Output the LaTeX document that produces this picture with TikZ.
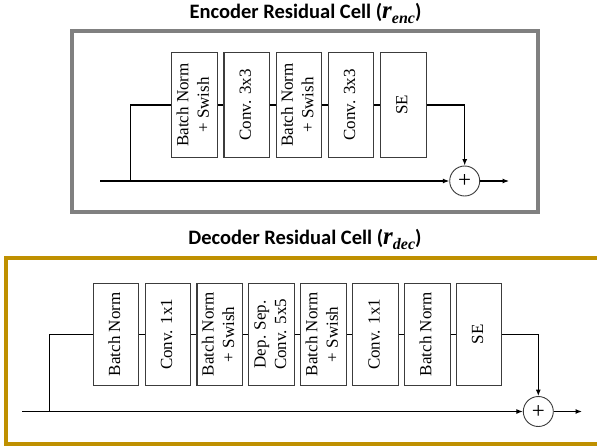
\documentclass[tikz,border=0pt]{standalone}
\usepackage{fontspec}
\setmainfont{Liberation Serif}
\newfontfamily\titlefont{Carlito}
\usetikzlibrary{arrows.meta}
\definecolor{framegray}{HTML}{808080}
\definecolor{framegold}{HTML}{BF9000}
\definecolor{boxline}{HTML}{3C3C3C}
\newcommand{\rtext}[1]{\rotatebox{90}{\fontsize{17}{20.5}\selectfont\begin{tabular}{@{}c@{}}#1\end{tabular}}}
\newcommand{\rsub}[2]{{\rmfamily\bfseries\itshape\fontsize{25}{25}\selectfont #1\raisebox{-5pt}{\fontsize{16}{16}\selectfont #2}}}
\begin{document}
\begin{tikzpicture}[x=1pt,y=1pt,
  blk/.style={draw=boxline,line width=1.1pt,fill=white,inner sep=0pt},
  eblk/.style={blk,minimum width=45.5pt,minimum height=105pt},
  dblk/.style={blk,minimum width=45.6pt,minimum height=102pt},
  sumnode/.style={draw=boxline,line width=0.9pt,circle,minimum size=30pt,inner sep=0pt,font=\fontsize{23}{23}\selectfont},
  conn/.style={line width=1.1pt,black},
  arr/.style={conn,-{Latex[length=6.5pt,width=5pt]}},
  ttl/.style={font=\titlefont\bfseries\fontsize{20.5}{23}\selectfont,inner sep=0pt,anchor=base}
]
\useasboundingbox (0,0) rectangle (597,-447);
\fill[white] (0,0) rectangle (597,-447);

% ---------- Encoder ----------
\node[ttl] (etitle) at (305.5,-19) {Encoder Residual Cell (\rsub{r}{enc})};
\draw[framegray,line width=4pt] (71.7,-30.7) rectangle (538,-212.3);

\node[eblk] (e1) at (194.5,-105) {\rtext{Batch Norm\\+ Swish}};
\node[eblk] (e2) at (246.7,-105) {\rtext{Conv. 3x3}};
\node[eblk] (e3) at (298.9,-105) {\rtext{Batch Norm\\+ Swish}};
\node[eblk] (e4) at (351.1,-105) {\rtext{Conv. 3x3}};
\node[eblk] (e5) at (403.3,-105) {\rtext{SE}};
\node[sumnode] (es) at (464.7,-181) {+};
\coordinate (ein) at (100,-181);
\coordinate (ebr) at (130.7,-181);
\coordinate (eout) at (509,-181);

\draw[conn] (ebr) |- (e1.west);
\draw[conn] (e1.east) -- (e2.west);
\draw[conn] (e2.east) -- (e3.west);
\draw[conn] (e3.east) -- (e4.west);
\draw[conn] (e4.east) -- (e5.west);
\draw[arr] (e5.east) -| (es.north);
\draw[arr] (ein) -- (es.west);
\draw[arr] (es.east) -- (eout);

% ---------- Decoder ----------
\node[ttl] (dtitle) at (305,-244.5) {Decoder Residual Cell (\rsub{r}{dec})};
\draw[framegold,line width=4.5pt] (6,-258) rectangle (603,-443.8);

\node[dblk] (d1) at (116.1,-334.3) {\rtext{Batch Norm}};
\node[dblk] (d2) at (168.0,-334.3) {\rtext{Conv. 1x1}};
\node[dblk] (d3) at (219.8,-334.3) {\rtext{Batch Norm\\+ Swish}};
\node[dblk] (d4) at (271.7,-334.3) {\rtext{Dep. Sep.\\Conv. 5x5}};
\node[dblk] (d5) at (323.5,-334.3) {\rtext{Batch Norm\\+ Swish}};
\node[dblk] (d6) at (375.4,-334.3) {\rtext{Conv. 1x1}};
\node[dblk] (d7) at (427.3,-334.3) {\rtext{Batch Norm}};
\node[dblk] (d8) at (479.1,-334.3) {\rtext{SE}};
\node[sumnode] (ds) at (538.3,-411.5) {+};
\coordinate (din) at (22,-411.5);
\coordinate (dbr) at (49.3,-411.5);
\coordinate (dout) at (582,-411.5);

\draw[conn] (dbr) |- (d1.west);
\foreach \a/\b in {d1/d2,d2/d3,d3/d4,d4/d5,d5/d6,d6/d7,d7/d8}
  \draw[conn] (\a.east) -- (\b.west);
\draw[arr] (d8.east) -| (ds.north);
\draw[arr] (din) -- (ds.west);
\draw[arr] (ds.east) -- (dout);
\end{tikzpicture}
\end{document}
